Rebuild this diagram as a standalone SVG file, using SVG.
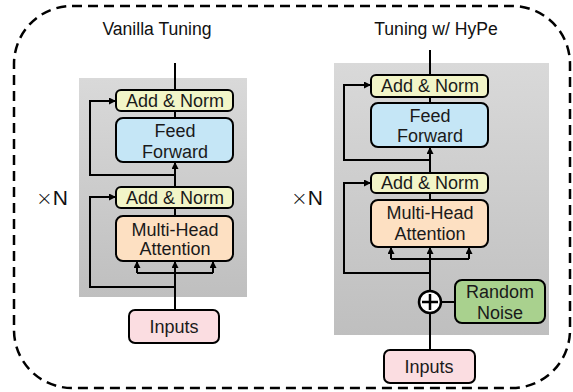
<svg xmlns="http://www.w3.org/2000/svg" width="573" height="392" viewBox="0 0 573 392">
<style>
text{font-family:"Liberation Sans",Arial,sans-serif;fill:#1a1a1a;text-anchor:middle}
.t{font-size:18px}
.ti{font-size:17.6px;fill:#111}
.xn{font-size:21px;text-anchor:start;fill:#111}
.x{font-family:"DejaVu Sans",sans-serif;font-size:20px;font-weight:200}
.box{stroke:#000;stroke-width:2}
.an{fill:#f2f5c8}
.ff{fill:#c5e6f6}
.mha{fill:#fde0c2}
.inp{fill:#fbdde1}
.rn{fill:#a9d18e}
.ln{fill:none;stroke:#000;stroke-width:2}
.arr{fill:none;stroke:#000;stroke-width:2;marker-end:url(#ah)}
</style>
<defs>
<linearGradient id="pg" x1="0" y1="0" x2="0" y2="1">
<stop offset="0" stop-color="#d9d9d9"/>
<stop offset="1" stop-color="#bfbfbf"/>
</linearGradient>
<marker id="ah" viewBox="0 0 10 10" refX="10" refY="5" markerWidth="7" markerHeight="7" markerUnits="userSpaceOnUse" orient="auto">
<path d="M0,0 L10,5 L0,10 Z" fill="#000"/>
</marker>
</defs>
<rect x="14" y="6" width="556" height="382" rx="58" fill="none" stroke="#000" stroke-width="2.5" stroke-dasharray="10,6"/>
<text class="ti" x="157" y="35">Vanilla Tuning</text>
<text class="ti" x="436" y="35">Tuning w/ HyPe</text>
<text class="xn" x="36" y="205"><tspan class="x">×</tspan>N</text>
<text class="xn" x="291" y="205"><tspan class="x">×</tspan>N</text>
<g id="panel-left"><rect x="79" y="78" width="168" height="219" fill="url(#pg)"/></g>
<g id="panel-right"><rect x="334" y="63" width="215" height="272" fill="url(#pg)"/></g>
<g id="connectors">
<path class="ln" d="M175,63 V90"/>
<path class="ln" d="M175,111 V118"/>
<path class="arr" d="M175,187 V162"/>
<path class="arr" d="M175,175 H90 V101 H116"/>
<path class="ln" d="M175,208 V216"/>
<path class="ln" d="M175,310 V273"/>
<path class="ln" d="M137,273 H213"/>
<path class="arr" d="M137,273 V261"/>
<path class="arr" d="M175,273 V261"/>
<path class="arr" d="M213,273 V261"/>
<path class="arr" d="M175,287 H90 V197 H116"/>
<path class="ln" d="M430,50 V75"/>
<path class="ln" d="M430,97 V103"/>
<path class="arr" d="M430,173 V147"/>
<path class="arr" d="M430,160 H344 V85 H371"/>
<path class="ln" d="M430,193 V200"/>
<path class="ln" d="M430,350 V259"/>
<path class="ln" d="M391,259 H469"/>
<path class="arr" d="M391,259 V247"/>
<path class="arr" d="M430,259 V247"/>
<path class="arr" d="M469,259 V247"/>
<path class="arr" d="M430,273 H344 V183 H371"/>
<path class="ln" d="M441,302 H455"/>
</g>
<g id="an1-left"><rect class="box an" x="116" y="90" width="117" height="21" rx="5"/><text class="t" x="175" y="107">Add &amp; Norm</text></g>
<g id="ff-left"><rect class="box ff" x="116" y="118" width="117" height="44" rx="7"/><text class="t" x="175" y="137">Feed</text><text class="t" x="175" y="158">Forward</text></g>
<g id="an2-left"><rect class="box an" x="116" y="187" width="117" height="21" rx="5"/><text class="t" x="175" y="204">Add &amp; Norm</text></g>
<g id="mha-left"><rect class="box mha" x="116" y="216" width="117" height="45" rx="7"/><text class="t" x="175" y="236">Multi-Head</text><text class="t" x="175" y="255">Attention</text></g>
<g id="inputs-left"><rect class="box inp" x="129" y="310" width="90" height="33" rx="6"/><text class="t" x="174" y="333">Inputs</text></g>
<g id="an1-right"><rect class="box an" x="371" y="75" width="117" height="22" rx="5"/><text class="t" x="430" y="92">Add &amp; Norm</text></g>
<g id="ff-right"><rect class="box ff" x="371" y="103" width="117" height="44" rx="7"/><text class="t" x="430" y="122">Feed</text><text class="t" x="430" y="142">Forward</text></g>
<g id="an2-right"><rect class="box an" x="371" y="173" width="117" height="20" rx="5"/><text class="t" x="430" y="189">Add &amp; Norm</text></g>
<g id="mha-right"><rect class="box mha" x="371" y="200" width="117" height="47" rx="7"/><text class="t" x="430" y="219">Multi-Head</text><text class="t" x="430" y="240">Attention</text></g>
<g id="plus"><circle cx="430" cy="302" r="11" fill="#fff" stroke="#000" stroke-width="2.5"/><path d="M422,302 H438 M430,294 V310" stroke="#000" stroke-width="2.5"/></g>
<g id="random-noise"><rect class="box rn" x="455" y="280" width="90" height="43" rx="7"/><text class="t" x="500" y="298">Random</text><text class="t" x="500" y="319">Noise</text></g>
<g id="inputs-right"><rect class="box inp" x="384" y="350" width="91" height="33" rx="6"/><text class="t" x="429" y="373">Inputs</text></g>
</svg>
